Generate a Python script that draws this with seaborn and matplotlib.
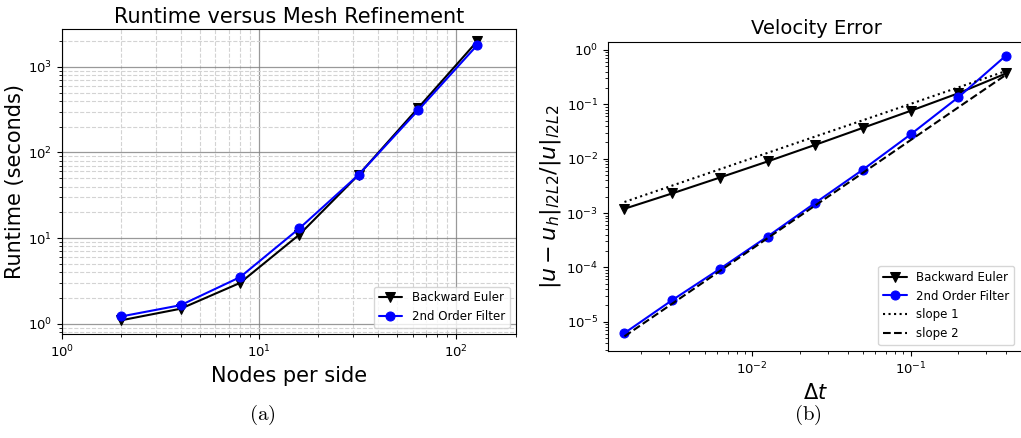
"""
Runtime vs mesh refinement and velocity error convergence
"""

import matplotlib
matplotlib.use('Agg')
import matplotlib.pyplot as plt
import seaborn as sns
import pandas as pd

# Runtime data (panel a)
nodes = [2, 4, 8, 16, 32, 64, 128]
runtime_be = [1.1, 1.5, 3.0, 11.0, 55.0, 330.0, 2000.0]
runtime_filter = [1.22, 1.65, 3.5, 13.0, 55.0, 310.0, 1800.0]

# Velocity error data (panel b)
dt = [0.0015625, 0.003125, 0.00625, 0.0125, 0.025, 0.05, 0.1, 0.2, 0.4]
err_be = [1.2e-3, 2.3e-3, 4.5e-3, 8.9e-3, 1.8e-2, 3.7e-2, 7.6e-2, 0.16, 0.37]
err_filter = [6.2e-6, 2.5e-5, 9.4e-5, 3.7e-4, 1.54e-3, 6.3e-3, 2.8e-2, 0.135, 0.79]
slope1 = [1.6e-3, 3.2e-3, 6.4e-3, 1.28e-2, 2.56e-2, 5.1e-2, 0.102, 0.205, 0.41]
slope2 = [5.4e-6, 2.15e-5, 8.6e-5, 3.45e-4, 1.38e-3, 5.5e-3, 2.2e-2, 8.8e-2, 0.35]

sns.set_style("ticks")
plt.rcParams['mathtext.fontset'] = 'dejavusans'
for key in ['text.color', 'axes.labelcolor', 'xtick.color', 'ytick.color',
            'axes.edgecolor']:
    plt.rcParams[key] = 'black'

fig = plt.figure(figsize=(10.21, 4.38), dpi=100)

# (a) Runtime versus Mesh Refinement
ax1 = fig.add_axes([0.0607, 0.2374, 0.4443, 0.6966])
df_rt = pd.DataFrame({'nodes': nodes, 'be': runtime_be, 'filt': runtime_filter})
sns.lineplot(data=df_rt, x='nodes', y='be', ax=ax1, color='black', marker='v',
             markersize=6.5, markeredgecolor='black', linewidth=1.5,
             label='Backward Euler')
sns.lineplot(data=df_rt, x='nodes', y='filt', ax=ax1, color='blue', marker='o',
             markersize=6.5, markeredgecolor='blue', linewidth=1.5,
             label='2nd Order Filter')
ax1.set_xscale('log')
ax1.set_yscale('log')
ax1.set_xlim(1, 200)
ax1.set_ylim(0.76, 2770)
ax1.grid(which='major', color='gray', linestyle='-', linewidth=0.9, alpha=0.8)
ax1.grid(which='minor', color='lightgray', linestyle='--', linewidth=0.8)
ax1.set_axisbelow(True)
ax1.set_title('Runtime versus Mesh Refinement', fontsize=15, pad=4)
ax1.set_xlabel('Nodes per side', fontsize=15)
ax1.set_ylabel('Runtime (seconds)', fontsize=15, labelpad=2)
ax1.tick_params(labelsize=9.5)
ax1.legend(loc='lower right', fontsize=8.5, fancybox=True, framealpha=0.8,
           borderpad=0.4, handlelength=2)

# (b) Velocity Error
ax2 = fig.add_axes([0.5955, 0.1986, 0.4075, 0.7054])
df_err = pd.DataFrame({'dt': dt, 'be': err_be, 'filt': err_filter,
                       's1': slope1, 's2': slope2})
sns.lineplot(data=df_err, x='dt', y='be', ax=ax2, color='black', marker='v',
             markersize=6.5, markeredgecolor='black', linewidth=1.5,
             label='Backward Euler')
sns.lineplot(data=df_err, x='dt', y='filt', ax=ax2, color='blue', marker='o',
             markersize=6.5, markeredgecolor='blue', linewidth=1.5,
             label='2nd Order Filter')
sns.lineplot(data=df_err, x='dt', y='s1', ax=ax2, color='black',
             linestyle=':', linewidth=1.5, label='slope 1')
sns.lineplot(data=df_err, x='dt', y='s2', ax=ax2, color='black',
             linestyle='--', linewidth=1.5, label='slope 2')
ax2.set_xscale('log')
ax2.set_yscale('log')
ax2.set_xlim(1.23e-3, 0.52)
ax2.set_ylim(2.9e-6, 1.4)
ax2.set_title('Velocity Error', fontsize=14, pad=6)
ax2.set_xlabel(r'$\Delta t$', fontsize=15)
ax2.set_ylabel(r'$|u-u_h|_{l2L2}/|u|_{l2L2}$', fontsize=16, labelpad=2)
ax2.tick_params(labelsize=9.5)
ax2.legend(loc='lower right', bbox_to_anchor=(0.99, 0.0), fontsize=8.5,
           fancybox=True, framealpha=0.8, borderpad=0.4, handlelength=2)

# panel captions
fig.text(0.2566, 0.025, r'$\mathrm{(a)}$', ha='center', va='bottom',
         fontsize=15, math_fontfamily='cm')
fig.text(0.7914, 0.025, r'$\mathrm{(b)}$', ha='center', va='bottom',
         fontsize=15, math_fontfamily='cm')

fig.savefig('out.png', dpi=100)
print("Saved out.png")
